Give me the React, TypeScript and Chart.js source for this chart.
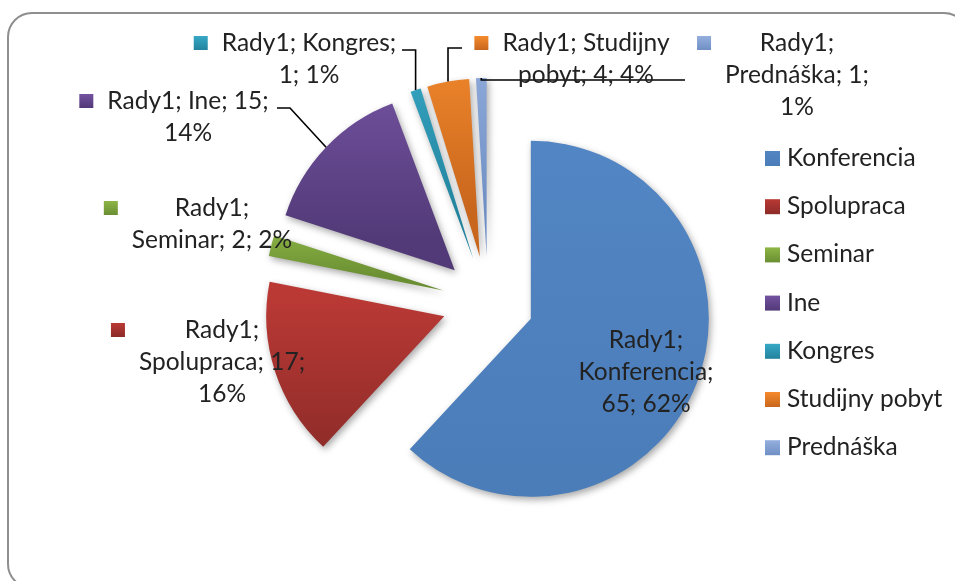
import { useEffect, useRef } from "react";
import { Chart, registerables } from "chart.js";

Chart.register(...registerables);

// ---- data ----
const seriesName = "Rady1";
const categories = ["Konferencia", "Spolupraca", "Seminar", "Ine", "Kongres", "Studijny pobyt", "Prednáška"];
const values = [65, 17, 2, 15, 1, 4, 1];
// how many words of each data label go on each line (Excel's wrapping)
const labelLineWords = [[1, 1, 2], [1, 2, 1], [1, 3], [3, 1], [2, 2], [2, 3], [1, 2, 1]];

// ---- styles ----
const topColors = ["#5285C3", "#BA3935", "#8DB646", "#7352A0", "#36A8C5", "#F58B2D", "#94AFDE"];
const bottomColors = ["#4A7CB8", "#8C2B28", "#6A8E32", "#523A78", "#23839E", "#C8661D", "#6F8FC4"];
const FONT_FAMILY = 'Lato, "Open Sans", sans-serif';
const FONT_SIZE = 24.5;
const TEXT_COLOR = "#222222";
const PIE_RADIUS = 178;
const EXPLODE = 46;
const LABEL_POS: [number, number][] = [[646, 340], [222, 330], [212, 208], [188, 101], [309, 43], [586, 43], [797, 43]];
const LABEL_KEY = [false, true, true, true, true, true, true];
const LABEL_LINE_H = 32;
const LEADERS: ({ start: [number, number]; elbow?: [number, number] } | null)[] = [
  null,
  null,
  null,
  { start: [277, 108], elbow: [290, 108] },
  { start: [402, 50] },
  { start: [462, 48] },
  { start: [685, 80] },
];

const total = values.reduce((a, b) => a + b, 0);

function labelLines(i: number): string[] {
  const pct = Math.round((values[i] / total) * 100);
  const words = `${seriesName}; ${categories[i]}; ${values[i]}; ${pct}%`.split(" ");
  let k = 0;
  return labelLineWords[i].map((n) => {
    const s = words.slice(k, k + n).join(" ");
    k += n;
    return s;
  });
}

function sliceFill(context: any) {
  const i = context.dataIndex;
  const chart = context.chart;
  const area = chart.chartArea;
  if (!area || i === undefined) return topColors[i ?? 0];
  const cx = (area.left + area.right) / 2;
  const cy = (area.top + area.bottom) / 2;
  let before = 0;
  for (let k = 0; k < i; k++) before += values[k];
  const a0 = -Math.PI / 2 + (before / total) * Math.PI * 2;
  const a1 = a0 + (values[i] / total) * Math.PI * 2;
  const mid = (a0 + a1) / 2;
  const ox = cx + Math.cos(mid) * EXPLODE;
  const oy = cy + Math.sin(mid) * EXPLODE;
  let minY = oy;
  let maxY = oy;
  for (let s = 0; s <= 40; s++) {
    const a = a0 + ((a1 - a0) * s) / 40;
    const y = oy + Math.sin(a) * PIE_RADIUS;
    minY = Math.min(minY, y);
    maxY = Math.max(maxY, y);
  }
  const g = chart.ctx.createLinearGradient(0, minY, 0, maxY);
  g.addColorStop(0, topColors[i]);
  g.addColorStop(1, bottomColors[i]);
  return g;
}

const framePlugin = {
  id: "frame",
  beforeDraw(chart: any) {
    const ctx = chart.ctx;
    ctx.save();
    ctx.fillStyle = "#ffffff";
    ctx.fillRect(0, 0, chart.width, chart.height);
    ctx.beginPath();
    ctx.roundRect(8, 13, 960, 575, 24);
    ctx.strokeStyle = "#8e8e8e";
    ctx.lineWidth = 2;
    ctx.stroke();
    ctx.restore();
  },
};

const explodePlugin = {
  id: "explode",
  afterUpdate(chart: any) {
    const meta = chart.getDatasetMeta(0);
    meta.data.forEach((arc: any) => {
      if (arc.__exploded) return;
      const orig = arc.draw;
      arc.draw = function (ctx: CanvasRenderingContext2D, area: any) {
        const mid = (this.startAngle + this.endAngle) / 2;
        ctx.save();
        ctx.translate(Math.cos(mid) * EXPLODE, Math.sin(mid) * EXPLODE);
        orig.call(this, ctx, area);
        ctx.restore();
      };
      arc.__exploded = true;
    });
  },
};

const shadowPlugin = {
  id: "sliceShadow",
  beforeDatasetsDraw(chart: any) {
    const ctx = chart.ctx;
    ctx.save();
    ctx.shadowColor = "rgba(0,0,0,0.35)";
    ctx.shadowBlur = 7;
    ctx.shadowOffsetX = 2;
    ctx.shadowOffsetY = 3;
  },
  afterDatasetsDraw(chart: any) {
    chart.ctx.restore();
  },
};

function keySquare(ctx: CanvasRenderingContext2D, x: number, y: number, size: number, i: number) {
  const g = ctx.createLinearGradient(0, y, 0, y + size);
  g.addColorStop(0, topColors[i]);
  g.addColorStop(1, bottomColors[i]);
  ctx.fillStyle = g;
  ctx.fillRect(x, y, size, size);
}

const labelPlugin = {
  id: "dataLabels",
  afterDraw(chart: any) {
    const ctx = chart.ctx;
    const meta = chart.getDatasetMeta(0);
    ctx.save();
    ctx.font = `${FONT_SIZE}px ${FONT_FAMILY}`;
    ctx.textAlign = "center";
    ctx.textBaseline = "middle";
    // leader lines
    ctx.strokeStyle = "#000000";
    ctx.lineWidth = 1.6;
    LEADERS.forEach((ld, i) => {
      if (!ld) return;
      const arc = meta.data[i];
      const mid = (arc.startAngle + arc.endAngle) / 2;
      const r = arc.outerRadius + EXPLODE;
      const ex = arc.x + Math.cos(mid) * r;
      const ey = arc.y + Math.sin(mid) * r;
      const elbow = ld.elbow ?? [ex, ld.start[1]];
      ctx.beginPath();
      ctx.moveTo(ld.start[0], ld.start[1]);
      ctx.lineTo(elbow[0], elbow[1]);
      ctx.lineTo(ex, ey);
      ctx.stroke();
    });
    // texts
    categories.forEach((_, i) => {
      const lines = labelLines(i);
      const [cx, cy] = LABEL_POS[i];
      ctx.fillStyle = TEXT_COLOR;
      let maxW = 0;
      lines.forEach((ln, k) => {
        ctx.fillText(ln, cx, cy + k * LABEL_LINE_H);
        maxW = Math.max(maxW, ctx.measureText(ln).width);
      });
      if (LABEL_KEY[i]) {
        keySquare(ctx, cx - maxW / 2 - 28, cy - 7, 14, i);
      }
    });
    ctx.restore();
  },
};

const legendPlugin = {
  id: "sideLegend",
  afterDraw(chart: any) {
    const ctx = chart.ctx;
    const labels: string[] = chart.data.labels;
    ctx.save();
    ctx.font = `${FONT_SIZE}px ${FONT_FAMILY}`;
    ctx.textAlign = "left";
    ctx.textBaseline = "middle";
    labels.forEach((lab, i) => {
      const y = 158 + i * 48.2;
      keySquare(ctx, 765, y - 7, 15, i);
      ctx.fillStyle = TEXT_COLOR;
      ctx.fillText(lab, 787, y);
    });
    ctx.restore();
  },
};

export default function App() {
  const ref = useRef<HTMLCanvasElement>(null);
  useEffect(() => {
    const canvas = ref.current!;
    const chart = new Chart(canvas, {
      type: "pie",
      data: {
        labels: categories,
        datasets: [
          {
            label: seriesName,
            data: values,
            backgroundColor: sliceFill as any,
            borderWidth: 0,
            offset: 0,
            hoverOffset: 0,
            radius: PIE_RADIUS,
          } as any,
        ],
      },
      options: {
        responsive: false,
        animation: false,
        events: [],
        layout: { padding: { left: 238, right: 217, top: 52, bottom: 29 } },
        plugins: { legend: { display: false }, tooltip: { enabled: false } },
      },
      plugins: [framePlugin, explodePlugin, shadowPlugin, labelPlugin, legendPlugin],
    });
    return () => chart.destroy();
  }, []);
  return (
    <div style={{ position: "fixed", left: 0, top: 0, width: 955, height: 581, background: "#fff" }}>
      <canvas ref={ref} width={955} height={581} style={{ display: "block", width: 955, height: 581 }} />
    </div>
  );
}
